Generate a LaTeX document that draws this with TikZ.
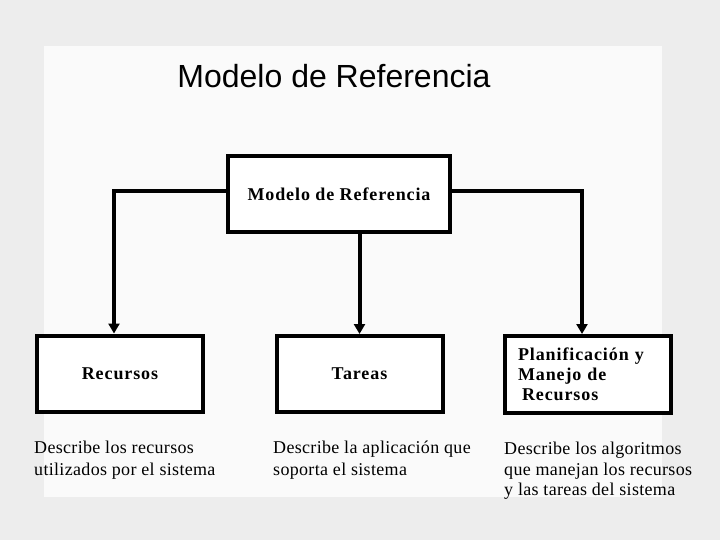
\documentclass[tikz,border=0pt]{standalone}
\usepackage{fontspec}
\setmainfont{Liberation Serif}
\newfontfamily\titlefont{Liberation Sans}
\newfontfamily\boxfont[LetterSpace=5]{Liberation Serif}
\newfontfamily\descfont[LetterSpace=1.8]{Liberation Serif}
\usepackage{tikz}
\usetikzlibrary{arrows.meta,positioning,calc}

\begin{document}
\begin{tikzpicture}[
  x=1pt, y=-1pt,
  box/.style={
    rectangle,
    draw=black,
    line width=4pt,
    fill=white,
    inner sep=0pt,
    minimum width=166pt,
    minimum height=76pt,
    font=\boxfont\bfseries\fontsize{18pt}{20pt}\selectfont
  },
  desc/.style={
    anchor=north west,
    align=left,
    inner sep=0pt,
    execute at begin node={\rule{0pt}{15pt}},
    font=\descfont\fontsize{18pt}{21.5pt}\selectfont
  },
  rel/.style={-{Triangle[length=10pt,width=11pt]}, line width=4pt}
]

% background and panel
\fill[gray!14] (0,0) rectangle (720,540);
\fill[gray!4] (44,46) rectangle (662,497);
\useasboundingbox (0,0) rectangle (720,540);

\node[anchor=base, font=\titlefont\fontsize{32pt}{36pt}\selectfont] (title) at (334,88) {Modelo de Referencia};

\node[box, minimum width=222pt] (modelo) at (339,194) {Modelo de Referencia};

\node[box] (recursos) at (120,373.5) {Recursos};
\node[box] (tareas) at (359.5,374) {Tareas};
\node[box, align=left, text width=140pt, inner xsep=13pt, minimum height=77pt] (plan) at (588,374.5) {
Planificación y\\
Manejo de\\
\hspace*{4pt}Recursos
};

\node[desc] (dRecursos) at (34,441) {Describe los recursos\\utilizados por el sistema};
\node[desc] (dTareas) at (273,441) {Describe la aplicación que\\soporta el sistema};
\node[desc, font=\descfont\fontsize{18pt}{20.5pt}\selectfont] (dPlan) at (504,442) {Describe los algoritmos\\que manejan los recursos\\y las tareas del sistema};

\draw[rel] ([yshift=3pt]modelo.west) -| ([xshift=-6pt]recursos.north);
\draw[rel] (tareas.north |- modelo.south) -- (tareas.north);
\draw[rel] ([yshift=3pt]modelo.east) -| ([xshift=-6pt]plan.north);

\end{tikzpicture}
\end{document}
